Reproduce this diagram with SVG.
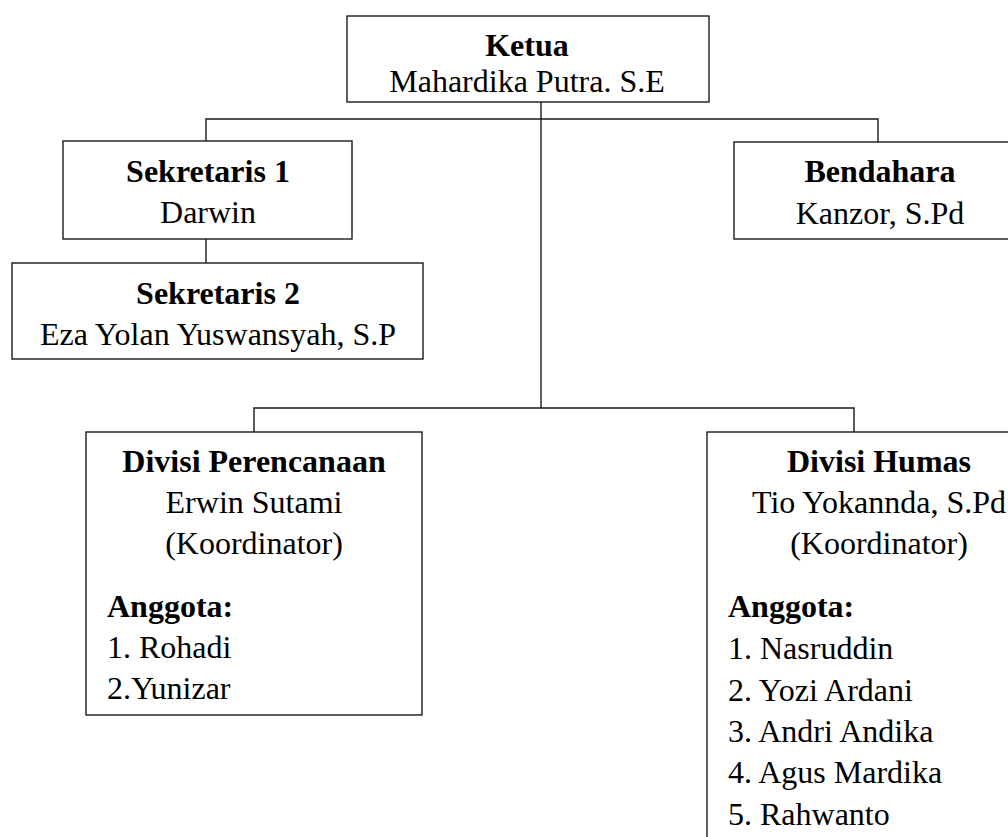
<svg xmlns="http://www.w3.org/2000/svg" width="1008" height="837" viewBox="0 0 1008 837">
<style>
.box{fill:#fff;stroke:#1a1a1a;stroke-width:1.4}
.ln{fill:none;stroke:#1a1a1a;stroke-width:1.4}
text{font-family:"Liberation Serif","Times New Roman",serif;font-size:32px;fill:#000}
.b{font-weight:bold}
.c{text-anchor:middle}
</style>
<rect width="1008" height="837" fill="#fff"/>
<g id="connectors">
<path class="ln" d="M541 102 V408"/>
<path class="ln" d="M206 141 V119 H878 V142"/>
<path class="ln" d="M206 239 V263"/>
<path class="ln" d="M254 432 V408 H854 V432"/>
</g>
<g id="ketua">
<rect class="box" x="347" y="16" width="362" height="86"/>
<text class="b c" x="527" y="56">Ketua</text>
<text class="c" x="527" y="92">Mahardika Putra. S.E</text>
</g>
<g id="sekretaris1">
<rect class="box" x="63" y="141" width="289" height="98"/>
<text class="b c" x="208" y="182">Sekretaris 1</text>
<text class="c" x="208" y="223">Darwin</text>
</g>
<g id="sekretaris2">
<rect class="box" x="12" y="263" width="411" height="96"/>
<text class="b c" x="218" y="304">Sekretaris 2</text>
<text class="c" x="218" y="345">Eza Yolan Yuswansyah, S.P</text>
</g>
<g id="bendahara">
<rect class="box" x="734" y="142" width="280" height="97"/>
<text class="b c" x="880" y="182">Bendahara</text>
<text class="c" x="880" y="224">Kanzor, S.Pd</text>
</g>
<g id="divisi-perencanaan">
<rect class="box" x="86" y="432" width="336" height="283"/>
<text class="b c" x="254" y="472">Divisi Perencanaan</text>
<text class="c" x="254" y="513">Erwin Sutami</text>
<text class="c" x="254" y="554">(Koordinator)</text>
<text class="b" x="107" y="617">Anggota:</text>
<text x="107" y="658">1. Rohadi</text>
<text x="107" y="699">2.Yunizar</text>
</g>
<g id="divisi-humas">
<rect class="box" x="707" y="432" width="310" height="420"/>
<text class="b c" x="879" y="472">Divisi Humas</text>
<text class="c" x="879" y="513">Tio Yokannda, S.Pd</text>
<text class="c" x="879" y="554">(Koordinator)</text>
<text class="b" x="728" y="617">Anggota:</text>
<text x="728" y="659">1. Nasruddin</text>
<text x="728" y="701">2. Yozi Ardani</text>
<text x="728" y="742">3. Andri Andika</text>
<text x="728" y="783">4. Agus Mardika</text>
<text x="728" y="825">5. Rahwanto</text>
</g>
</svg>
